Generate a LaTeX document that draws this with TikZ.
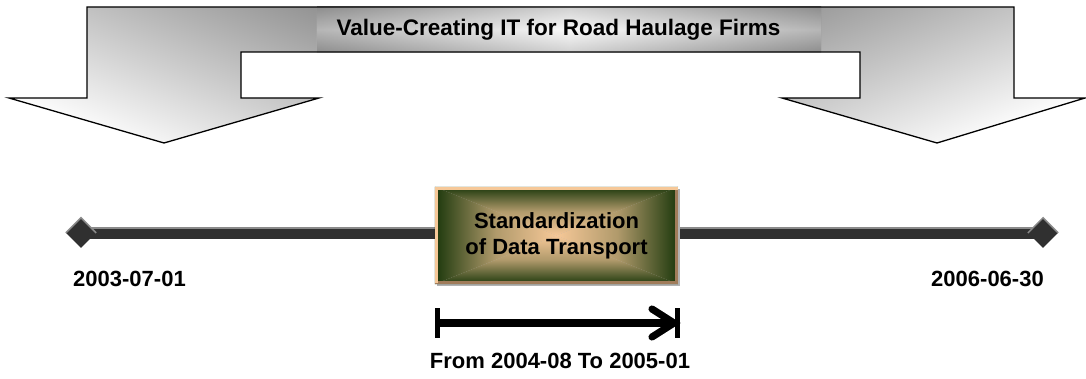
\documentclass[tikz,border=0pt]{standalone}
\usepackage{fontspec}
\setmainfont{Liberation Sans}
\usetikzlibrary{shapes.geometric,calc}

\definecolor{barcol}{HTML}{303030}
\definecolor{barhi}{HTML}{8A8A8A}
\definecolor{peach}{HTML}{F6C898}
\definecolor{bevel}{HTML}{A07C5A}
\definecolor{dkgreen}{HTML}{1C380C}

\tikzset{
  lbl/.style={font=\fontsize{22}{26}\selectfont\bfseries, text=black, inner sep=0pt},
  titlebox/.style={minimum width=504pt, minimum height=45pt, inner sep=0pt,
    left color=black!52, right color=black!52, middle color=black!4},
  taskbox/.style={minimum width=243pt, minimum height=97pt, inner sep=0pt},
  wedgeL/.style={left color=dkgreen, right color=peach, middle color=peach!68!dkgreen},
  wedgeR/.style={left color=peach, right color=dkgreen, middle color=peach!68!dkgreen},
  wedgeT/.style={top color=dkgreen, bottom color=peach, middle color=peach!68!dkgreen},
  wedgeB/.style={top color=peach, bottom color=dkgreen, middle color=peach!68!dkgreen},
  endmark/.style={diamond, minimum size=30pt, inner sep=0pt, fill=barcol},
  barline/.style={barcol, line width=12pt},
  barhigh/.style={barhi, line width=1.6pt},
  rangeline/.style={line width=8pt, black},
  rangebar/.style={line width=5pt, black},
  rangehead/.style={line width=7pt, black, line cap=round},
}

\begin{document}
\begin{tikzpicture}[x=1pt, y=-1pt]
\useasboundingbox (0,0) rectangle (1086,379);

% banner arrows: two gradient halves, outline drawn on top
\shade[top color=black!52, bottom color=white, shading angle=-22]
  (87,7) -- (543,7) -- (543,52) -- (241,52) -- (241,98) -- (319,98)
  -- (164,143) -- (9,98) -- (87,98) -- cycle;
\shade[top color=black!52, bottom color=white, shading angle=22]
  (542,7) -- (1014,7) -- (1014,98) -- (1085,98) -- (937,143) -- (782,98)
  -- (860,98) -- (860,52) -- (542,52) -- cycle;

\node[titlebox] (title) at (569,29.5) {};
\shade[top color=black!35, bottom color=black!35, middle color=white, opacity=0.45]
  (title.south west) rectangle (title.north east);
\node[lbl, font=\fontsize{22.5}{26}\selectfont\bfseries] (titletext) at (558.5,30) {Value-Creating IT for Road Haulage Firms};

\draw[line width=1.3pt, line join=miter]
  (87,7) -- (1014,7) -- (1014,98) -- (1085,98) -- (937,143) -- (782,98)
  -- (860,98) -- (860,52) -- (241,52) -- (241,98) -- (319,98)
  -- (164,143) -- (9,98) -- (87,98) -- cycle;

% time line
\coordinate (tlA) at (81,233);
\coordinate (tlB) at (1043,233);
\path node[taskbox] (task) at (556.5,235.5) {};

\draw[barline] (tlA) -- (tlA -| task.west);
\draw[barline] (tlB -| task.east) -- (tlB);
\draw[barhigh] ([yshift=5.2pt]tlA) -- ([yshift=5.2pt]tlA -| task.west);
\draw[barhigh] ([yshift=5.2pt]tlB -| task.east) -- ([yshift=5.2pt]tlB);
\node[endmark] (startmark) at (tlA) {};
\node[endmark] (endmark) at (tlB) {};
\draw[barhi, line width=1.5pt] (startmark.west) -- (startmark.north) -- (startmark.east);
\draw[barhi, line width=1.5pt] (endmark.west) -- (endmark.north) -- (endmark.east);

% task box: four gradient wedges meeting in the middle, bevelled rim
\fill[black!30] ([xshift=2pt,yshift=-2pt]task.south west) rectangle ([xshift=2pt,yshift=-2pt]task.north east);
\shade[wedgeL] (task.north west) -- (task.center) -- (task.south west) -- cycle;
\shade[wedgeR] (task.north east) -- (task.center) -- (task.south east) -- cycle;
\shade[wedgeT] (task.north west) -- (task.center) -- (task.north east) -- cycle;
\shade[wedgeB] (task.south west) -- (task.center) -- (task.south east) -- cycle;
\draw[bevel, line width=3pt] ([xshift=-1.5pt]task.north east) -- ([xshift=-1.5pt,yshift=1.5pt]task.south east)
  -- ([yshift=1.5pt]task.south west);
\draw[peach, line width=3pt] ([yshift=1.5pt,xshift=1.5pt]task.south west) -- ([xshift=1.5pt,yshift=-1.5pt]task.north west)
  -- ([yshift=-1.5pt]task.north east);
\node[lbl, align=center] (tasktext) at (task.center) {Standardization\\of Data Transport};

\node[lbl] (d1) at (129.5,278.5) {2003-07-01};
\node[lbl] (d2) at (987.5,278.5) {2006-06-30};

% duration of the task
\coordinate (rs) at (437.5,323);
\coordinate (re) at (674,323);
\begin{scope}[shift={(-2.5,-2.5)}]
  \draw[line width=5pt, black!45] ([yshift=15pt]rs) -- ([yshift=-15pt]rs);
  \draw[line width=8pt, black!45] (rs) -- (re);
  \draw[line width=7pt, black!45, line cap=round]
    ([xshift=-22pt,yshift=14pt]re) -- (re) -- ([xshift=-22pt,yshift=-14pt]re);
  \draw[line width=5pt, black!45] ([xshift=3pt,yshift=15pt]re) -- ([xshift=3pt,yshift=-15pt]re);
\end{scope}
\draw[rangebar] ([yshift=15pt]rs) -- ([yshift=-15pt]rs);
\draw[rangeline] (rs) -- (re);
\draw[rangehead] ([xshift=-22pt,yshift=14pt]re) -- (re) -- ([xshift=-22pt,yshift=-14pt]re);
\draw[rangebar] ([xshift=3pt,yshift=15pt]re) -- ([xshift=3pt,yshift=-15pt]re);

\node[lbl] (range) at (560,361) {From 2004-08 To 2005-01};
\end{tikzpicture}
\end{document}
